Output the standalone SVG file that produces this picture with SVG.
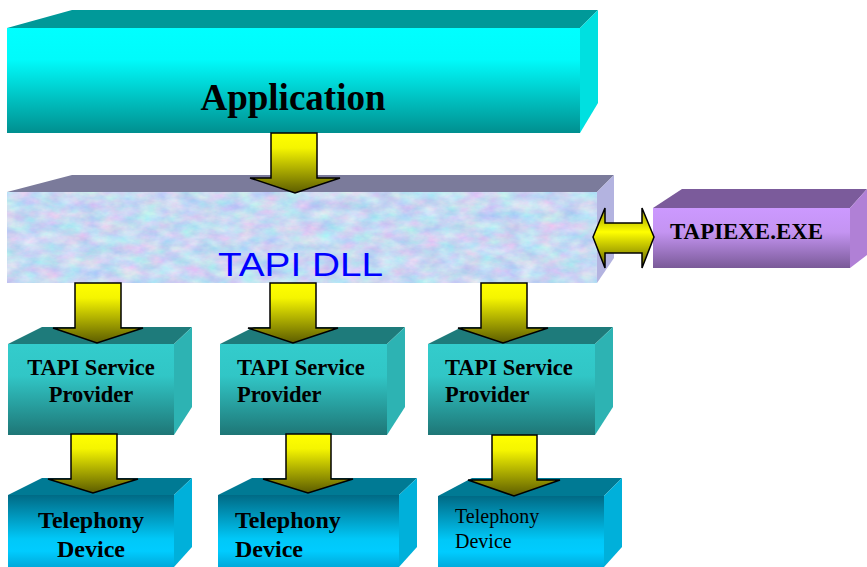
<svg xmlns="http://www.w3.org/2000/svg" width="867" height="567" viewBox="0 0 867 567">
  <defs>
    <linearGradient id="gApp" x1="0" y1="0" x2="0" y2="1">
      <stop offset="0" stop-color="#00FFFF"/>
      <stop offset="0.3" stop-color="#00FBFB"/>
      <stop offset="1" stop-color="#008F8F"/>
    </linearGradient>
    <linearGradient id="gExe" x1="0" y1="0" x2="0" y2="1">
      <stop offset="0" stop-color="#CC99FF"/>
      <stop offset="0.4" stop-color="#C494F2"/>
      <stop offset="1" stop-color="#7A5A98"/>
    </linearGradient>
    <linearGradient id="gSp" x1="0" y1="0" x2="0" y2="1">
      <stop offset="0" stop-color="#33CCCC"/>
      <stop offset="0.35" stop-color="#31C6C6"/>
      <stop offset="1" stop-color="#1E7676"/>
    </linearGradient>
    <linearGradient id="gDev" x1="0" y1="0" x2="0" y2="1">
      <stop offset="0" stop-color="#006A85"/>
      <stop offset="0.55" stop-color="#00C8F8"/>
      <stop offset="0.7" stop-color="#00CCFF"/>
      <stop offset="1" stop-color="#0098C8"/>
    </linearGradient>
    <linearGradient id="gArrow" x1="0" y1="0" x2="0" y2="1">
      <stop offset="0" stop-color="#FFFF00"/>
      <stop offset="0.25" stop-color="#F5F500"/>
      <stop offset="1" stop-color="#5C5C00"/>
    </linearGradient>
    <linearGradient id="gDbl" x1="0" y1="0" x2="0" y2="1">
      <stop offset="0" stop-color="#8F8F00"/>
      <stop offset="0.4" stop-color="#FFFF00"/>
      <stop offset="1" stop-color="#5C5C00"/>
    </linearGradient>
    <filter id="marble" x="0" y="0" width="1" height="1" color-interpolation-filters="sRGB">
      <feTurbulence type="fractalNoise" baseFrequency="0.05 0.09" numOctaves="4" seed="7"/>
      <feColorMatrix type="matrix" values="0.36 0 0 0 0.6  0 0.26 0 0 0.72  0 0 0.08 0 0.91  0 0 0 0 1"/>
    </filter>
    <style>
      .bold { font-family: "Liberation Serif", "Times New Roman", serif; font-weight: bold; fill: #000; }
      .reg { font-family: "Liberation Serif", "Times New Roman", serif; fill: #000; }
      .arrow { fill: url(#gArrow); stroke: #000; stroke-width: 1.5; stroke-linejoin: miter; }
      .spTop { fill: #1E7B7B; }
      .spSide { fill: #2DB3B3; }
      .spFront { fill: url(#gSp); }
      .devTop { fill: #007A94; }
      .devSide { fill: #00B0DA; }
      .devFront { fill: url(#gDev); }
    </style>
  </defs>

  <rect width="867" height="567" fill="#FFFFFF"/>

  <!-- Application -->
  <g id="application">
    <polygon points="7,28 72,10 598,10 580,28" fill="#009999"/>
    <polygon points="580,28 598,10 598,103 580,133" fill="#00E0E0"/>
    <rect x="7" y="28" width="573" height="105" fill="url(#gApp)"/>
    <text class="bold" x="293" y="110" font-size="37" text-anchor="middle">Application</text>
  </g>

  <!-- TAPI DLL -->
  <g id="tapi-dll">
    <polygon points="7,192 72,175 614,175 597,192" fill="#7B7B9B"/>
    <polygon points="597,192 614,175 614,258 597,283" fill="#B3B3E0"/>
    <rect x="7" y="192" width="590" height="91" fill="#C8D6F2"/>
    <rect x="7" y="192" width="590" height="91" filter="url(#marble)"/>
    <text x="218" y="276" font-family="'Liberation Sans', Arial, sans-serif" font-size="33" fill="#0000FF" textLength="165" lengthAdjust="spacingAndGlyphs">TAPI DLL</text>
  </g>

  <!-- TAPIEXE.EXE -->
  <g id="tapiexe">
    <polygon points="653,208 682,189 867,189 850,208" fill="#7B5B9B"/>
    <polygon points="850,208 867,189 867,255 850,268" fill="#B080D6"/>
    <rect x="653" y="208" width="197" height="60" fill="url(#gExe)"/>
    <text class="bold" x="670" y="239" font-size="23" textLength="153" lengthAdjust="spacingAndGlyphs">TAPIEXE.EXE</text>
  </g>

  <!-- Service providers -->
  <g id="provider-1">
    <polygon class="spTop" points="8,344 42,327 192,327 174,344"/>
    <polygon class="spSide" points="174,344 192,327 192,407 174,435"/>
    <rect class="spFront" x="8" y="344" width="166" height="91"/>
    <text class="bold" x="91" y="375" font-size="22.5" text-anchor="middle">TAPI Service</text>
    <text class="bold" x="91" y="402" font-size="22.5" text-anchor="middle">Provider</text>
  </g>
  <g id="provider-2">
    <polygon class="spTop" points="220,344 254,327 405,327 387,344"/>
    <polygon class="spSide" points="387,344 405,327 405,407 387,435"/>
    <rect class="spFront" x="220" y="344" width="167" height="91"/>
    <text class="bold" x="237" y="375" font-size="22.5">TAPI Service</text>
    <text class="bold" x="237" y="402" font-size="22.5">Provider</text>
  </g>
  <g id="provider-3">
    <polygon class="spTop" points="428,344 462,327 613,327 595,344"/>
    <polygon class="spSide" points="595,344 613,327 613,407 595,435"/>
    <rect class="spFront" x="428" y="344" width="167" height="91"/>
    <text class="bold" x="445" y="375" font-size="22.5">TAPI Service</text>
    <text class="bold" x="445" y="402" font-size="22.5">Provider</text>
  </g>

  <!-- Telephony devices -->
  <g id="device-1">
    <polygon class="devTop" points="8,495 42,478 192,478 174,495"/>
    <polygon class="devSide" points="174,495 192,478 192,547 174,567"/>
    <rect class="devFront" x="8" y="495" width="166" height="80"/>
    <text class="bold" x="91" y="528" font-size="24" text-anchor="middle">Telephony</text>
    <text class="bold" x="91" y="557" font-size="24" text-anchor="middle">Device</text>
  </g>
  <g id="device-2">
    <polygon class="devTop" points="218,495 252,478 417,478 399,495"/>
    <polygon class="devSide" points="399,495 417,478 417,547 399,567"/>
    <rect class="devFront" x="218" y="495" width="181" height="80"/>
    <text class="bold" x="235" y="528" font-size="24">Telephony</text>
    <text class="bold" x="235" y="557" font-size="24">Device</text>
  </g>
  <g id="device-3">
    <polygon class="devTop" points="438,496 472,478 622,478 604,496"/>
    <polygon class="devSide" points="604,496 622,478 622,547 604,567"/>
    <rect class="devFront" x="438" y="496" width="166" height="80"/>
    <text class="reg" x="455" y="523" font-size="20">Telephony</text>
    <text class="reg" x="455" y="548" font-size="20">Device</text>
  </g>

  <!-- Connectors -->
  <g id="connectors">
    <path class="arrow" d="M271,133 L317,133 L317,178 L340,178 L295,193 L250,178 L271,178 Z"/>
    <path class="arrow" d="M75,283 L121,283 L121,328 L143,328 L97,343 L53,328 L75,328 Z"/>
    <path class="arrow" d="M270,283 L316,283 L316,328 L338,328 L293,343 L248,328 L270,328 Z"/>
    <path class="arrow" d="M481,283 L527,283 L527,328 L548,328 L503,343 L458,328 L481,328 Z"/>
    <path class="arrow" d="M71,434 L117,434 L117,479 L138,479 L93,493 L48,479 L71,479 Z"/>
    <path class="arrow" d="M286,434 L331,434 L331,479 L353,479 L308,493 L263,479 L286,479 Z"/>
    <path class="arrow" d="M492,435 L537,435 L537,480 L560,480 L514,496 L468,480 L492,480 Z"/>
    <path class="arrow" style="fill:url(#gDbl)" d="M593,237 L605,208 L605,223 L642,223 L642,208 L654,237 L642,268 L642,253 L605,253 L605,268 Z"/>
  </g>
</svg>
